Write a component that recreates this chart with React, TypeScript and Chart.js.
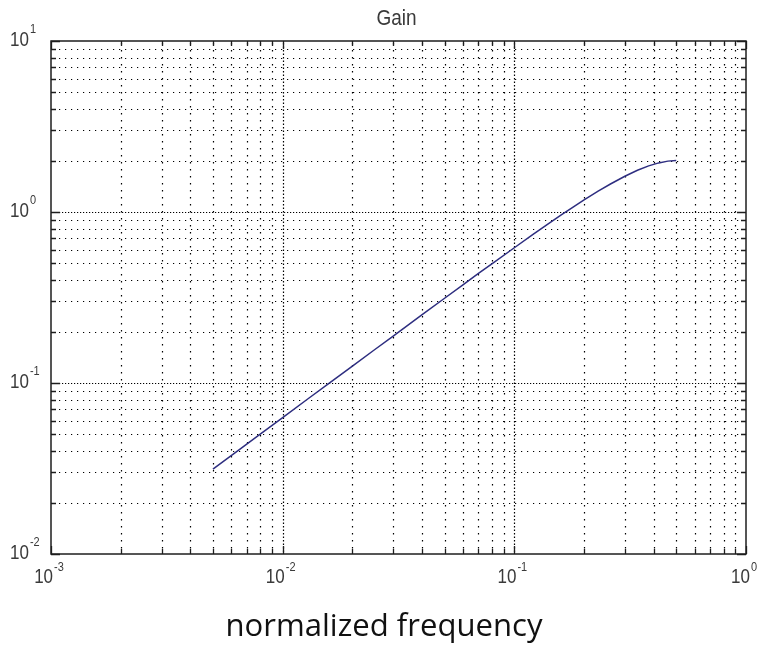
import React, { useEffect, useRef } from "react";
import { Chart, registerables } from "chart.js";

Chart.register(...registerables);

// Data (normalized frequency vs gain)
const FREQ = [0.005, 0.0065, 0.008, 0.01, 0.013, 0.016, 0.02, 0.025, 0.03, 0.04, 0.05, 0.06, 0.07, 0.08, 0.1, 0.12, 0.14, 0.16, 0.18, 0.2, 0.23, 0.26, 0.3, 0.34, 0.38, 0.42, 0.46, 0.5];
const GAIN = [0.0314, 0.0408, 0.0503, 0.0628, 0.0817, 0.1005, 0.1256, 0.157, 0.188, 0.251, 0.313, 0.375, 0.437, 0.498, 0.618, 0.737, 0.852, 0.964, 1.071, 1.176, 1.323, 1.458, 1.618, 1.753, 1.861, 1.937, 1.984, 2.0];

const X_EXPONENTS = [-3, -2, -1, 0];
const Y_EXPONENTS = [-2, -1, 0, 1];
const TICK_BASE = "10";
const TITLE = "Gain";
const X_TITLE = "normalized frequency";

const STRETCH = 1.15;

function tickValues(exps: number[]) {
  const out: { v: number; major: boolean }[] = [];
  for (let i = 0; i < exps.length; i++) {
    const d = exps[i];
    if (i === exps.length - 1) {
      out.push({ v: Math.pow(10, d), major: true });
    } else {
      for (let m = 1; m <= 9; m++) out.push({ v: m * Math.pow(10, d), major: m === 1 });
    }
  }
  return out;
}

function drawStretched(ctx: CanvasRenderingContext2D, text: string, x: number, y: number) {
  ctx.save();
  ctx.translate(x, y);
  ctx.scale(1, STRETCH);
  ctx.fillText(text, 0, 0);
  ctx.restore();
}

const matlabPlugin = {
  id: "matlabAxes",
  beforeDraw(chart: any) {
    const ctx = chart.ctx;
    ctx.save();
    ctx.fillStyle = "#ffffff";
    ctx.fillRect(0, 0, chart.width, chart.height);
    ctx.restore();
  },
  beforeDatasetsDraw(chart: any) {
    const ctx: CanvasRenderingContext2D = chart.ctx;
    const { left, right, top, bottom } = chart.chartArea;
    const xs = chart.scales.x;
    const ys = chart.scales.y;
    ctx.save();
    ctx.strokeStyle = "#000000";
    ctx.lineWidth = 1.2;
    for (const t of tickValues(X_EXPONENTS)) {
      const px = Math.round(xs.getPixelForValue(t.v)) + 0.5;
      if (px <= left + 1 || px >= right - 1) continue;
      ctx.setLineDash(t.major ? [1.5, 2] : [1.5, 5.5]);
      ctx.beginPath();
      ctx.moveTo(px, top + 2);
      ctx.lineTo(px, bottom);
      ctx.stroke();
    }
    for (const t of tickValues(Y_EXPONENTS)) {
      const py = Math.round(ys.getPixelForValue(t.v)) + 0.5;
      if (py <= top + 1 || py >= bottom - 1) continue;
      ctx.setLineDash(t.major ? [1.2, 1.8] : [1.2, 4.8]);
      ctx.beginPath();
      ctx.moveTo(left + 2, py);
      ctx.lineTo(right, py);
      ctx.stroke();
    }
    ctx.restore();
  },
  afterDatasetsDraw(chart: any) {
    const ctx: CanvasRenderingContext2D = chart.ctx;
    const { left, right, top, bottom } = chart.chartArea;
    const xs = chart.scales.x;
    const ys = chart.scales.y;
    ctx.save();
    ctx.strokeStyle = "#1e1e1e";
    ctx.lineWidth = 1.3;
    ctx.setLineDash([]);
    for (const t of tickValues(X_EXPONENTS)) {
      const px = Math.round(xs.getPixelForValue(t.v)) + 0.5;
      const len = t.major ? 8 : 5;
      ctx.beginPath();
      ctx.moveTo(px, bottom);
      ctx.lineTo(px, bottom - len);
      ctx.moveTo(px, top);
      ctx.lineTo(px, top + len);
      ctx.stroke();
    }
    for (const t of tickValues(Y_EXPONENTS)) {
      const py = Math.round(ys.getPixelForValue(t.v)) + 0.5;
      const len = t.major ? 9 : 5;
      ctx.beginPath();
      ctx.moveTo(left, py);
      ctx.lineTo(left + len, py);
      ctx.moveTo(right, py);
      ctx.lineTo(right - len, py);
      ctx.stroke();
    }
    ctx.lineWidth = 1.5;
    ctx.strokeRect(left, top, right - left, bottom - top);
    ctx.restore();
  },
  afterDraw(chart: any) {
    const ctx: CanvasRenderingContext2D = chart.ctx;
    const { left, right, bottom } = chart.chartArea;
    const xs = chart.scales.x;
    const ys = chart.scales.y;
    ctx.save();
    ctx.fillStyle = "#3a3a3a";
    ctx.textBaseline = "middle";
    ctx.textAlign = "left";
    const baseFont = "17px 'Liberation Sans', Arial, sans-serif";
    const expFont = "11px 'Liberation Sans', Arial, sans-serif";

    // Y tick labels
    for (const e of Y_EXPONENTS) {
      const py = ys.getPixelForValue(Math.pow(10, e));
      ctx.font = baseFont;
      const bw = ctx.measureText(TICK_BASE).width;
      drawStretched(ctx, TICK_BASE, 10, py);
      ctx.font = expFont;
      drawStretched(ctx, String(e), 10 + bw + 1, py - 11);
    }
    // X tick labels
    for (const e of X_EXPONENTS) {
      const px = xs.getPixelForValue(Math.pow(10, e));
      ctx.font = baseFont;
      const bw = ctx.measureText(TICK_BASE).width;
      ctx.font = expFont;
      const ew = ctx.measureText(String(e)).width;
      const start = px - (bw + 1 + ew) / 2 - 2;
      ctx.font = baseFont;
      drawStretched(ctx, TICK_BASE, start, bottom + 24);
      ctx.font = expFont;
      drawStretched(ctx, String(e), start + bw + 1, bottom + 14);
    }
    // Title
    ctx.font = "19px 'Liberation Sans', Arial, sans-serif";
    ctx.textAlign = "center";
    ctx.textBaseline = "alphabetic";
    drawStretched(ctx, TITLE, (left + right) / 2 - 2, 25);

    // X axis title
    ctx.fillStyle = "#111111";
    let size = 28;
    ctx.font = `${size}px 'Open Sans', sans-serif`;
    const w = ctx.measureText(X_TITLE).width;
    size = size * 317 / w;
    ctx.font = `${size}px 'Open Sans', sans-serif`;
    ctx.textAlign = "center";
    ctx.fillText(X_TITLE, 384, 636);
    ctx.restore();
  },
};

export default function App() {
  const ref = useRef<HTMLCanvasElement>(null);
  useEffect(() => {
    if (!ref.current) return;
    const chart = new Chart(ref.current, {
      type: "line",
      data: {
        datasets: [
          {
            data: FREQ.map((f, i) => ({ x: f, y: GAIN[i] })),
            borderColor: "#2e2e80",
            borderWidth: 1.5,
            pointRadius: 0,
            fill: false,
            tension: 0,
          },
        ],
      },
      options: {
        animation: false,
        responsive: false,
        maintainAspectRatio: false,
        layout: { padding: { top: 41, right: 15, left: 0, bottom: 0 } },
        plugins: { legend: { display: false }, tooltip: { enabled: false }, title: { display: false } },
        scales: {
          x: {
            type: "logarithmic",
            min: 0.001,
            max: 1,
            ticks: { display: false },
            grid: { display: false },
            border: { display: false },
            afterFit: (s: any) => { s.height = 92; },
          },
          y: {
            type: "logarithmic",
            min: 0.01,
            max: 10,
            ticks: { display: false },
            grid: { display: false },
            border: { display: false },
            afterFit: (s: any) => { s.width = 51; },
          },
        },
      } as any,
      plugins: [matlabPlugin],
    });
    return () => chart.destroy();
  }, []);
  return (
    <div style={{ position: "fixed", left: 0, top: 0, width: 761, height: 646, background: "#fff" }}>
      <canvas ref={ref} width={761} height={646} style={{ display: "block", width: 761, height: 646 }} />
    </div>
  );
}
